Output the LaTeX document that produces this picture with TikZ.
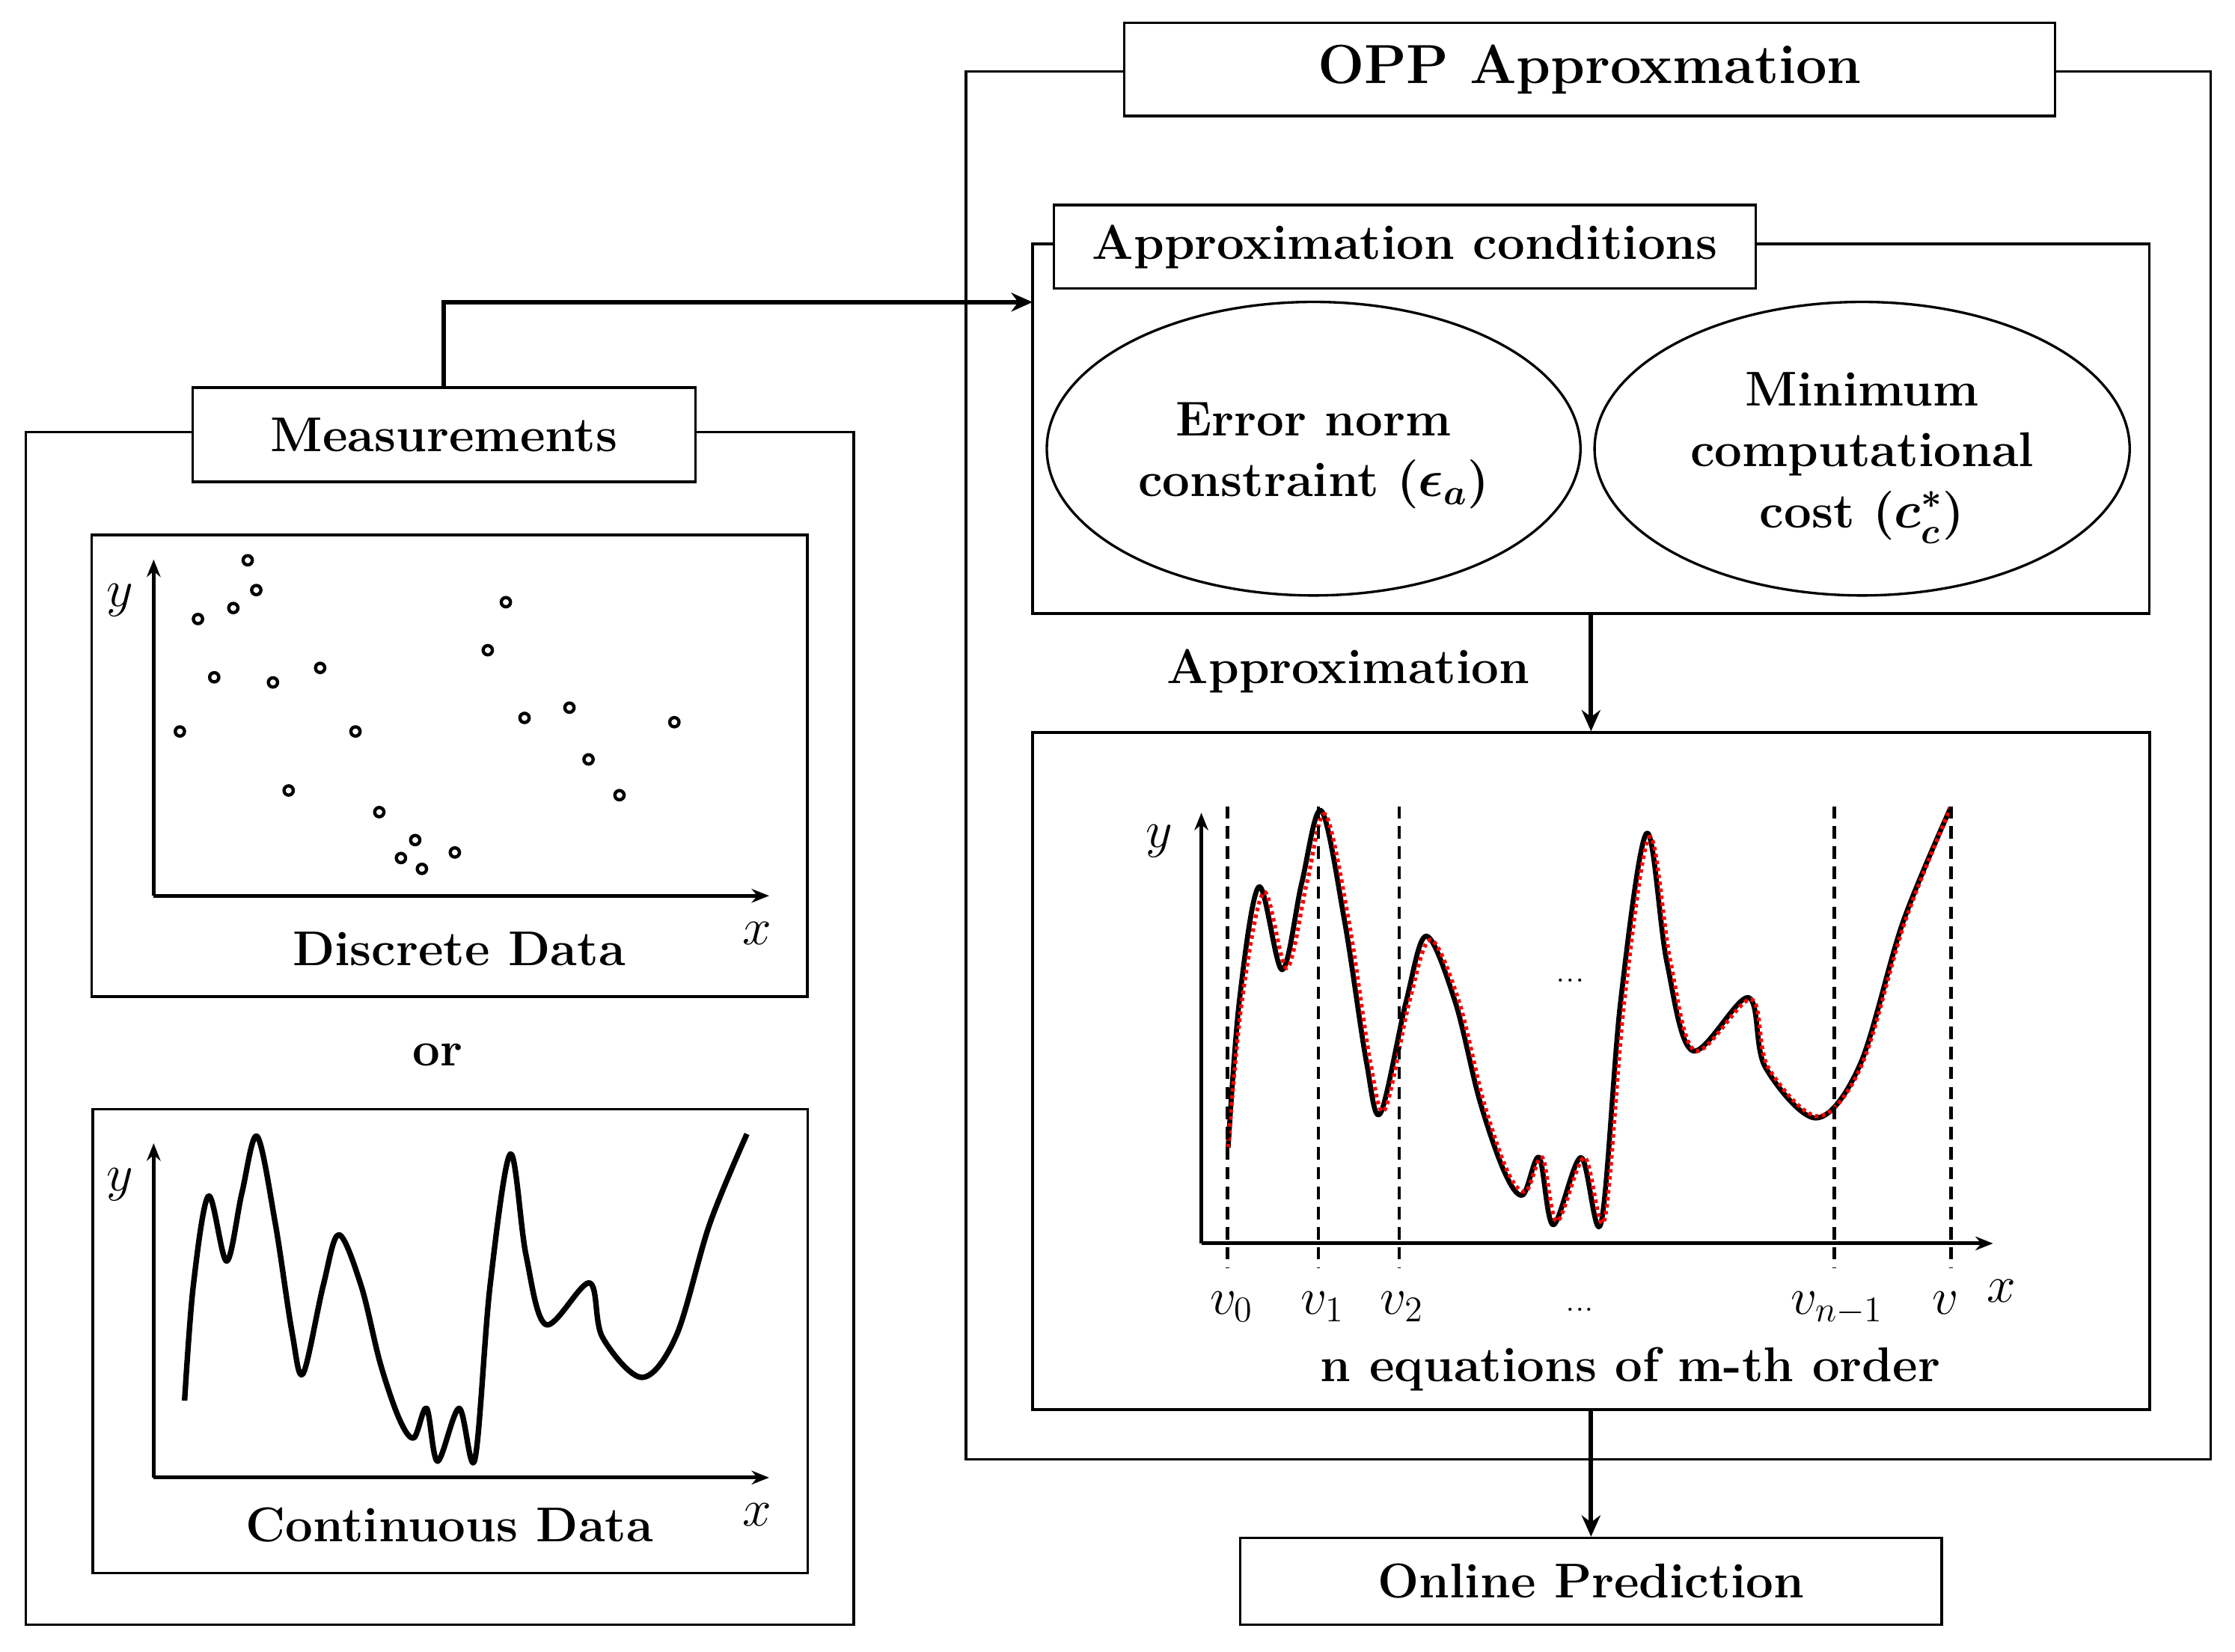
\documentclass[tikz,border=0pt]{standalone}
\usepackage{amssymb}
\usepackage{amsmath}
\usepackage{xcolor}
\usepackage{tikz}
\usetikzlibrary{
	arrows.meta,
	calc,
	positioning,
	shapes.geometric,
	}

\newcommand{\signalcurve}{plot[smooth, tension=0.55] coordinates {(0,0) (6.1,80.5) (16.8,143.6) (29.5,97.9) (40.2,145.7) (50.9,185.4) (63.7,124) (75.4,47.8) (83.1,18.9) (97.2,80.5) (108.2,116.4) (123.9,80.5) (137.3,26.1) (150.7,-13) (160.8,-26.1) (169.8,-5.4) (177.5,-42.5) (192.6,-5.4) (203.6,-41.4) (214.3,80.5) (228.5,173) (239.5,102.3) (253.6,53.3) (284,82.6) (293.1,44.6) (320.9,16.3) (345,45.7) (368.4,124) (394.5,187.1)}}
\newcommand{\fitcurve}{plot[smooth, tension=0.55] coordinates {(0,0) (7.5,80.5) (19.5,140.6) (32,98.9) (43,145.7) (53,183.4) (66,124) (77.5,47.8) (85.5,20.9) (99,80.5) (110.5,114.4) (126,80.5) (139.3,26.1) (152.5,-13) (162.5,-24.1) (171.5,-5.4) (179.5,-40.5) (194.5,-5.4) (205.5,-39.4) (216.3,80.5) (230,171) (241.5,102.3) (255,53.3) (285.5,81.6) (294.6,44.6) (322,17.3) (346,45.7) (369.4,124) (394.5,187.1)}}

\begin{document}
\begin{tikzpicture}[x=0.02cm, y=-0.02cm,
	lbl/.style={font=\fontsize{19.5}{24.3}\selectfont\bfseries},
	frame/.style={draw, line width=1.1pt, inner sep=0pt},
	tagbox/.style={draw, fill=white, line width=1pt, inner sep=0pt, lbl},
	cond ellipse/.style={draw, ellipse, line width=1pt, inner sep=0pt, minimum height=4.12cm},
	axis/.style={line width=1.5pt, -{Stealth[length=7pt, width=5.5pt]}},
	flow/.style={line width=1.8pt, -{Stealth[length=8.5pt, width=7.5pt]}},
	axlbl/.style={font=\fontsize{22}{26}\selectfont},
	signal/.style={line width=2.2pt, line join=round},
	]
			\useasboundingbox (0,0) rectangle (1568,1159);

			\node[frame, minimum width=11.62cm, minimum height=16.74cm] (measframe) at (308.5,721.5) {};
			\node[frame, minimum width=17.47cm, minimum height=19.48cm] (oppframe) at (1114.3,537) {};
			\node[frame, minimum width=15.67cm, minimum height=5.19cm] (condframe) at (1116.2,300.8) {};
			\node[frame, minimum width=15.68cm, minimum height=9.5cm] (eqbox) at (1116.2,751.5) {};
			\node[frame, minimum width=10.04cm, minimum height=6.48cm] (discbox) at (315.3,537.2) {};
			\node[frame, minimum width=10.03cm, minimum height=6.51cm] (contbox) at (315.9,940.9) {};

			\node[tagbox, minimum width=7.06cm, minimum height=1.32cm] (meas) at (311.5,305) {Measurements};
			\node[tagbox, minimum width=13.06cm, minimum height=1.31cm, font=\fontsize{22}{26}\selectfont\bfseries] (opp) at (1115.2,48.6) {OPP Approxmation};
			\node[tagbox, minimum width=9.85cm, minimum height=1.17cm] (cond) at (985.7,173) {Approximation conditions};
			\node[tagbox, minimum width=9.84cm, minimum height=1.22cm] (online) at (1116.2,1109.5) {Online Prediction};

			\node[cond ellipse, minimum width=7.49cm] (errnorm) at (921.6,314.8) {};
			\node[cond ellipse, minimum width=7.51cm] (mincost) at (1306.4,314.8) {};
			\node[lbl, align=center] (errtxt) at ([yshift=-0.1cm]errnorm.center) {Error norm\\constraint ($\boldsymbol{\epsilon_a}$)};
			\node[lbl, align=center] (costtxt) at ([yshift=-0.13cm]mincost.center) {Minimum\\computational\\cost ($\boldsymbol{c_c^*}$)};

			\coordinate (condin) at (724.4,212);
			\draw[flow] (meas.north) |- (condin);
			\draw[flow] (condframe.south) -- (eqbox.north);
			\draw[flow] (eqbox.south) -- (online.north);
			\node[lbl] (apprlab) at (946,471) {Approximation};

			% discrete data
			\draw[axis] (107.8,628.5) -- (107.8,392.5);
			\draw[axis] (107.8,628.5) -- (539.6,628.5);
			\node[axlbl] (dy) at (84.3,421) {$y$};
			\node[axlbl] (dx) at (531,655) {$x$};
			\foreach \px/\py in {126.2/513.2, 138.9/434.3, 150.3/475.2, 163.7/426.6, 173.8/393.1, 179.8/414.0, 191.5/478.8, 202.5/554.6, 224.6/468.6, 249.4/513.2, 266.1/569.8, 281.3/602.0, 291.3/589.4, 296.0/609.6, 319.1/598.1, 342.2/456.2, 354.9/422.5, 368.0/503.7, 399.5/496.5, 412.9/532.8, 434.6/557.9, 473.1/506.7}
				\draw[line width=1.3pt] (\px,\py) circle (0.065cm);
			\node[lbl] (disclab) at (322,666) {Discrete Data};

			\node[lbl] (orlab) at (307,740) {or};

			% continuous data
			\draw[axis] (107.8,1036.7) -- (107.8,802.1);
			\draw[axis] (107.8,1036.7) -- (539.6,1036.7);
			\node[axlbl] (cy) at (84.3,831) {$y$};
			\node[axlbl] (cx) at (531,1063) {$x$};
			\begin{scope}[shift={(129.5,982.7)}, yscale=-1]
				\draw[signal] \signalcurve;
			\end{scope}
			\node[lbl] (contlab) at (315.4,1069.8) {Continuous Data};

			% piecewise approximation
			\draw[axis] (842.8,872.4) -- (842.8,570.2);
			\draw[axis] (842.8,872.4) -- (1398.2,872.4);
			\node[axlbl] (ey) at (813.3,590) {$y$};
			\node[axlbl] (ex) at (1404,906) {$x$};
			\begin{scope}[shift={(861.6,805.2)}, xscale=1.285, yscale=-1.275]
				\draw[signal, line width=2pt] \signalcurve;
				\draw[red, line width=1.6pt, dash pattern=on 1.4pt off 1.4pt] \fitcurve;
			\end{scope}
			\foreach \xv/\xl/\vl in {861.1/864.1/v_0, 925.1/927.7/v_1, 981.6/983.7/v_2, 1286.8/1288.9/v_{n-1}, 1368.7/1365.1/v}
			{
				\draw[line width=1.3pt, dash pattern=on 5pt off 3pt] (\xv,565.7) -- (\xv,889.6);
				\node[axlbl, anchor=base] at (\xl,922) {$\vl$};
			}
			\node[font=\fontsize{15}{17}\selectfont, anchor=base] (edots) at (1108.3,920) {...};
			\node[font=\fontsize{15}{17}\selectfont] (mdots) at (1101.7,688) {...};
			\node[lbl] (eqlab) at (1143.8,960.4) {n equations of m-th order};

		\end{tikzpicture}
\end{document}
